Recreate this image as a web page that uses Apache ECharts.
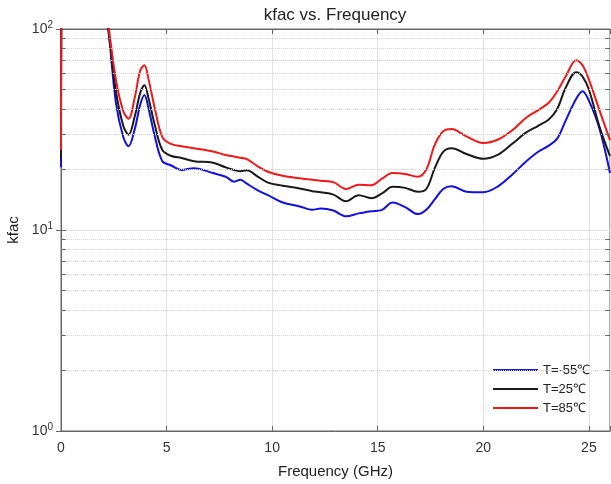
<!DOCTYPE html>
<html>
<head>
<meta charset="utf-8">
<title>kfac vs. Frequency</title>
<script src="https://cdn.jsdelivr.net/npm/echarts@6/dist/echarts.min.js"></script>
<style>
    html, body { margin: 0; padding: 0; background: #fff; }
    #main { width: 611px; height: 484px; }
</style>
</head>
<body>
<div id="main"></div>
<script>
    // 频率 (GHz)
    var freq = [0, 0.06, 1.1, 1.95, 2.24, 2.6, 2.95, 3.2, 3.5, 3.75, 3.95, 4.15, 4.45, 4.8, 5.2, 5.7, 6.3, 7.2, 7.8, 8.2,
        8.5, 8.8, 9.3, 9.8, 10.5, 11.3, 11.9, 12.3, 12.9, 13.5, 14.1, 14.7, 15.2, 15.7, 16.3, 16.9, 17.3, 17.7, 18.1, 18.5,
        19.2, 20.0, 20.7, 21.4, 22.0, 22.6, 23.1, 23.5, 23.9, 24.4, 24.7, 25.0, 25.5, 26.0];

    var kfacM55 = [20.5, 400, 600, 160, 100, 43, 29, 26.1, 32, 42, 47, 40, 29, 22, 21, 19.9, 20.3, 19.2, 18.4, 17.4,
        17.8, 17.0, 15.8, 14.9, 13.7, 13.1, 12.6, 12.8, 12.5, 11.7, 12.1, 12.4, 12.6, 13.7, 13.0, 12.0, 12.6, 14.2, 16.0, 16.5,
        15.5, 15.4, 16.5, 19.0, 21.8, 24.5, 26.3, 28.5, 35, 45, 49, 44, 32, 19.2];

    var kfac25 = [23, 400, 600, 165, 100, 49, 33, 29.8, 37, 48, 52.5, 45, 33, 25, 23.4, 22.8, 22.0, 21.6, 20.5, 19.9,
        19.6, 19.8, 18.5, 17.2, 16.6, 16.1, 15.6, 15.4, 15.0, 13.9, 14.9, 14.4, 15.2, 16.4, 16.2, 15.5, 16.0, 20.3, 24.5, 25.5,
        23.9, 22.6, 23.7, 27, 30.4, 33, 35.5, 40, 51, 61, 58, 50, 32.7, 23.3];

    var kfac85 = [25, 400, 600, 170, 105, 56, 39, 35.8, 46, 62, 66, 56, 40, 29, 26.8, 26.1, 25.5, 24.6, 23.6, 23.2,
        22.9, 22.5, 20.8, 19.5, 18.6, 18.1, 17.8, 17.6, 17.3, 16.0, 16.8, 16.7, 18.0, 19.2, 19.0, 18.4, 20.0, 26.5, 31, 31.8,
        29.2, 27.1, 28.2, 31.5, 36, 39.5, 43, 49, 58, 70, 66, 56, 39.5, 28];

    var seriesNames = ['T=-55℃', 'T=25℃', 'T=85℃'];
    var seriesColors = ['#1010e0', '#1a1a1a', '#f01818'];
    var xTicks = [0, 5, 10, 15, 20, 25];
    var minorY = [2, 3, 4, 5, 6, 7, 8, 9, 20, 30, 40, 50, 60, 70, 80, 90];

    var fontName = 'Liberation Sans, Arial, sans-serif';
    var xMin = 0, xMax = 26, minorTickLen = 0.22;

    function pairs(xs, ys) {
        var out = [];
        for (var i = 0; i < xs.length; i++) {
            out.push([xs[i], ys[i]]);
        };
        return out;
    };

    function lineSeries(name, color, ys) {
        return {
            name: name,
            type: 'line',
            data: pairs(freq, ys),
            smooth: 0.35,
            showSymbol: false,
            symbol: 'none',
            clip: true,
            z: 3,
            lineStyle: { color: color, width: 2 },
            itemStyle: { color: color }
        };
    };

    // 次网格线 + 左右两侧的次刻度
    var minorLines = [], minorTicks = [];
    for (var i = 0; i < minorY.length; i++) {
        minorLines.push({ yAxis: minorY[i] });
        minorTicks.push([{ coord: [xMin, minorY[i]] }, { coord: [xMin + minorTickLen, minorY[i]] }]);
        minorTicks.push([{ coord: [xMax - minorTickLen, minorY[i]] }, { coord: [xMax, minorY[i]] }]);
    };

    var myChart = echarts.init(document.getElementById('main'));
    var option = {
        animation: false,
        backgroundColor: '#fff',
        title: {
            text: 'kfac vs. Frequency',
            left: 330,
            top: 2,
            textAlign: 'center',
            textStyle: { fontFamily: fontName, fontSize: 17, fontWeight: 'normal', color: '#222' }
        },
        legend: {
            orient: 'vertical',
            left: 488,
            top: 358,
            icon: 'rect',
            itemWidth: 45,
            itemHeight: 2,
            itemGap: 5,
            data: seriesNames,
            textStyle: { fontFamily: fontName, fontSize: 13, color: '#222', lineHeight: 14 }
        },
        grid: {
            left: 61,
            top: 29,
            right: 1,
            bottom: 53,
            containLabel: false,
            outerBoundsMode: 'none',
            show: true,
            borderColor: '#666',
            borderWidth: 1,
            backgroundColor: 'transparent'
        },
        xAxis: [{
            type: 'value',
            min: xMin,
            max: xMax,
            interval: 5,
            name: 'Frequency (GHz)',
            nameLocation: 'middle',
            nameGap: 33,
            nameTextStyle: { fontFamily: fontName, fontSize: 15, color: '#222' },
            axisLine: { lineStyle: { color: '#666' } },
            axisTick: { inside: true, length: 5, lineStyle: { color: '#666' } },
            axisLabel: {
                fontFamily: fontName, fontSize: 14, color: '#333', margin: 10,
                formatter: function (v) {
                    return xTicks.indexOf(v) > -1 ? String(v) : '';
                }
            },
            splitLine: { show: true, lineStyle: { color: '#e2e2e2', width: 1 } }
        }, {
            type: 'value',
            position: 'top',
            min: xMin,
            max: xMax,
            interval: 5,
            axisLine: { lineStyle: { color: '#666' } },
            axisTick: { inside: true, length: 5, lineStyle: { color: '#666' } },
            axisLabel: { show: false },
            splitLine: { show: false }
        }],
        yAxis: [{
            type: 'log',
            logBase: 10,
            min: 1,
            max: 100,
            name: 'kfac',
            nameLocation: 'middle',
            nameGap: 38,
            nameTextStyle: { fontFamily: fontName, fontSize: 15, color: '#222' },
            axisLine: { show: true, lineStyle: { color: '#666' } },
            axisTick: { inside: true, length: 5, lineStyle: { color: '#666' } },
            axisLabel: {
                fontFamily: fontName, fontSize: 14, color: '#333', margin: 8,
                formatter: function (v) {
                    var p = Math.round(Math.log(v) / Math.LN10);
                    return '10{sup|' + p + '}';
                },
                rich: {
                    sup: { fontFamily: fontName, fontSize: 10, color: '#333', verticalAlign: 'top', padding: [0, 0, 8, 0] }
                }
            },
            splitLine: { show: true, lineStyle: { color: '#e2e2e2', width: 1 } }
        }, {
            type: 'log',
            logBase: 10,
            min: 1,
            max: 100,
            position: 'right',
            axisLine: { show: true, lineStyle: { color: '#666' } },
            axisTick: { inside: true, length: 5, lineStyle: { color: '#666' } },
            axisLabel: { show: false },
            splitLine: { show: false }
        }],
        series: [{
            name: 'minor',
            type: 'line',
            data: [],
            z: 1,
            silent: true,
            markLine: {
                silent: true,
                symbol: ['none', 'none'],
                label: { show: false },
                animation: false,
                lineStyle: { color: '#d4d4d4', type: 'dotted', width: 1 },
                data: minorLines
            }
        }, {
            name: 'minorTick',
            type: 'line',
            data: [],
            z: 2,
            silent: true,
            markLine: {
                silent: true,
                symbol: ['none', 'none'],
                label: { show: false },
                animation: false,
                lineStyle: { color: '#666', type: 'solid', width: 1 },
                data: minorTicks
            }
        },
            lineSeries(seriesNames[0], seriesColors[0], kfacM55),
            lineSeries(seriesNames[1], seriesColors[1], kfac25),
            lineSeries(seriesNames[2], seriesColors[2], kfac85)
        ]
    };
    myChart.setOption(option);
</script>
</body>
</html>
